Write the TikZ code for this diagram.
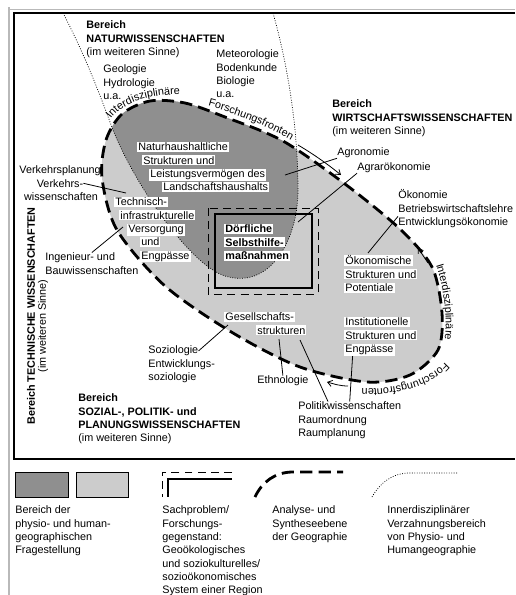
\documentclass[tikz,border=0pt]{standalone}
\usepackage{fontspec}
\setmainfont{Liberation Sans}
\usepackage{tikz}
\usetikzlibrary{arrows.meta,decorations.text}
\definecolor{physio}{gray}{0.56}
\definecolor{human}{gray}{0.80}
\tikzstyle{lbl} = [font=\fontsize{6.15}{7.6}\selectfont, align=left, inner sep=0pt, anchor=north west]
\tikzstyle{front} = [line width=1.6pt, dash pattern=on 7pt off 3.5pt]
\tikzstyle{verzahn} = [line width=0.4pt, dash pattern=on 0.5pt off 0.9pt]
\tikzstyle{sach} = [line width=0.5pt, dash pattern=on 4.5pt off 3pt]
\tikzstyle{lead} = [line width=0.45pt]
\tikzstyle{frontarrow} = [line width=0.45pt, -{Straight Barb[length=2.5pt,width=3.5pt]}]
\tikzstyle{umriss} = [insert path={plot[smooth cycle] coordinates {(102,178) (106,140) (122,114) (150,101) (185,103) (225,117) (283,141) (345,184) (400,229) (432,267) (442,313) (438,350) (410,375) (367,382) (300,367) (233,333) (165,286) (117,230)}}]
\newcommand{\wb}[1]{\colorbox{white}{#1}}
\newcommand{\ftext}{\fontsize{6.15}{7.6}\selectfont}
\setlength{\fboxsep}{0.6pt}

\begin{document}
\begin{tikzpicture}[x=0.02cm,y=-0.02cm]
\useasboundingbox (0,0) rectangle (515,595);
% Rahmen
\draw[gray!55,line width=0.9pt] (9,7) -- (9,595);
\draw[gray!55] (9,9) -- (515,9);
\draw[line width=0.6pt] (515,13) -- (14,13) -- (14,459) -- (515,459);

% Analyse- und Syntheseebene
\fill[human] [umriss];
\begin{scope}
\clip [umriss];
\fill[physio] (63,13) .. controls (85,55) and (100,95) .. (113,130) .. controls (135,185) and (190,265) .. (225,276) .. controls (270,290) and (298,240) .. (298,190) .. controls (298,120) and (285,55) .. (273,13) -- cycle;
\end{scope}
\draw[verzahn] (63,13) .. controls (85,55) and (100,95) .. (113,130) .. controls (135,185) and (190,265) .. (225,276) .. controls (270,290) and (298,240) .. (298,190) .. controls (298,120) and (285,55) .. (273,13);
\draw[front] [umriss];

% Forschungsfronten
\path[decorate,decoration={text along path,text={|\ftext|Interdisziplinäre}}] (111,119) .. controls (121,104) and (150,92) .. (192,95);
\path[decorate,decoration={text along path,text={|\ftext|Forschungsfronten}}] (208,106) .. controls (240,115) and (275,129) .. (302,147);
\draw[frontarrow] (298,145) .. controls (315,155) and (330,166) .. (341,175);
\draw[frontarrow] (428,263) -- (418,248);
\path[decorate,decoration={text along path,text={|\ftext|Interdisziplinäre}}] (436,265) .. controls (444,290) and (450,325) .. (442,352);
\path[decorate,decoration={text along path,text={|\ftext|Forschungsfronten}}] (445,362) .. controls (428,382) and (390,392) .. (345,388);
\draw[frontarrow] (348,386) .. controls (340,386) and (334,384) .. (327,382);

% Sachproblem
\draw[sach] (208,208) rectangle (318,294);
\draw[line width=0.7pt] (215,214) rectangle (312,288);

% Bereiche
\node[lbl] (natbereich) at (86,20.5) {\textbf{Bereich}\\\textbf{NATURWISSENSCHAFTEN}\\(im weiteren Sinne)};
\node[lbl] (geo) at (103,64.5) {Geologie\\Hydrologie\\u.a.};
\node[lbl] (meteo) at (216,49.5) {Meteorologie\\Bodenkunde\\Biologie\\u.a.};
\node[lbl] (wirtbereich) at (332,99.5) {\textbf{Bereich}\\\textbf{WIRTSCHAFTSWISSENSCHAFTEN}\\(im weiteren Sinne)};
\node[lbl] (agro) at (337,147.5) {Agronomie};
\node[lbl] (agrar) at (357,162.5) {Agrarökonomie};
\node[lbl] (oeko) at (398,189.5) {Ökonomie\\Betriebswirtschaftslehre\\Entwicklungsökonomie};
\node[lbl,anchor=north] (verk1) at (60,165.5) {Verkehrsplanung};
\node[lbl,anchor=north] (verk2) at (60,179) {Verkehrs-};
\node[lbl,anchor=north] (verk3) at (61,192.5) {wissenschaften};
\node[lbl] (ing) at (45,252.5) {Ingenieur- und\\Bauwissenschaften};
\node[lbl,anchor=center,rotate=90] (techbereich) at (31,316) {\textbf{Bereich TECHNISCHE WISSENSCHAFTEN}};
\node[lbl,anchor=center,rotate=90] (techsinn) at (43,326) {(im weiteren Sinne)};
\node[lbl] (soz1) at (148,345.5) {Soziologie};
\node[lbl] (soz2) at (148,359) {Entwicklungs-\\soziologie};
\node[lbl] (eth) at (257,375.5) {Ethnologie};
\node[lbl] (pol) at (298,401.5) {Politikwissenschaften\\Raumordnung\\Raumplanung};
\node[lbl] (sozbereich) at (78,393.5) {\textbf{Bereich}\\\textbf{SOZIAL-, POLITIK- und}\\\textbf{PLANUNGSWISSENSCHAFTEN}\\(im weiteren Sinne)};

% Verbindungen
\coordinate (verk-e) at (126,193);
\coordinate (ing-e) at (123,227);
\coordinate (agro-e) at (285,175);
\coordinate (agrar-e) at (298,222);
\coordinate (oeko-e) at (368,253);
\coordinate (soz-e) at (228,325);
\coordinate (eth-e) at (279,339);
\coordinate (pol-e1) at (300,340);
\coordinate (pol-e2) at (353,350);
\draw[lead] (verk2.east) -- (verk-e);
\draw[lead] (ing.north) -- (ing-e);
\draw[lead] (agro.south west) -- (agro-e);
\draw[lead] (agrar.south west) -- (agrar-e);
\draw[lead] ([yshift=-0.15cm]oeko.west) -- (oeko-e);
\draw[lead] (soz1.east) -- (soz-e);
\draw[lead] (eth.north) -- (eth-e);
\draw[lead] ([xshift=0.6cm]pol.north west) -- (pol-e1);
\draw[lead] (pol.north) -- (pol-e2);

% Fragestellungen
\node[lbl] (natur) at (137,141.5) {\wb{Naturhaushaltliche}\\\hspace*{0.1cm}\wb{Strukturen und}\\\hspace*{0.24cm}\wb{Leistungsvermögen des}\\\hspace*{0.5cm}\wb{Landschaftshaushalts}};
\node[lbl] (infra) at (114,196.5) {\wb{Technisch-}\\\hspace*{0.1cm}\wb{infrastrukturelle}\\\hspace*{0.26cm}\wb{Versorgung}\\\hspace*{0.52cm}\wb{und}\\\hspace*{0.52cm}\wb{Engpässe}};
\node[lbl] (dorf) at (224,223.5) {\wb{\textbf{Dörfliche}}\\\wb{\textbf{Selbsthilfe-}}\\\wb{\textbf{maßnahmen}}};
\node[lbl] (gesell) at (224,311.5) {\wb{Gesellschafts-}\\\hspace*{0.64cm}\wb{strukturen}};
\node[lbl] (oekstr) at (344,254.5) {\wb{Ökonomische}\\\wb{Strukturen und}\\\wb{Potentiale}};
\node[lbl] (inst) at (344,316.5) {\wb{Institutionelle}\\\wb{Strukturen und}\\\wb{Engpässe}};

% Legende
\draw[lead,fill=physio] (15,472) rectangle (68,497);
\draw[lead,fill=human] (76,472) rectangle (128,497);
\draw[sach] (232,472) -- (162,472) -- (162,497);
\draw[line width=0.6pt] (232,479) -- (168,479) -- (168,497);
\draw[front] (255,497) .. controls (262,482) and (275,472) .. (293,472) -- (343,472);
\draw[verzahn] (372,497) .. controls (380,483) and (392,473) .. (410,473) -- (457,473);
\node[lbl] (leg1) at (15,505.5) {Bereich der\\physio- und human-\\geographischen\\Fragestellung};
\node[lbl] (leg2) at (162,505.5) {Sachproblem/\\Forschungs-\\gegenstand:\\Geoökologisches\\und soziokulturelles/\\sozioökonomisches\\System einer Region};
\node[lbl] (leg3) at (272,505.5) {Analyse- und\\Syntheseebene\\der Geographie};
\node[lbl] (leg4) at (387,505.5) {Innerdisziplinärer\\Verzahnungsbereich\\von Physio- und\\Humangeographie};
\end{tikzpicture}
\end{document}
